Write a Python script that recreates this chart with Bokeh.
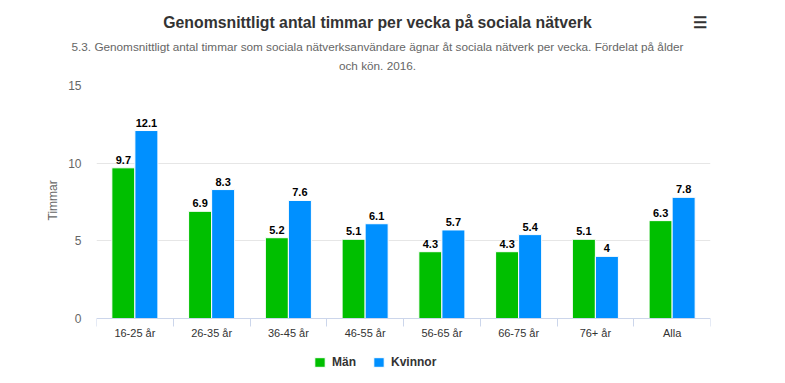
from bokeh.plotting import figure
from bokeh.models import (ColumnDataSource, Range1d, FixedTicker, LinearAxis,
                          Legend, LegendItem, Title)
from bokeh.transform import dodge
from bokeh.core.properties import value
from bokeh.embed import file_html
from bokeh.resources import INLINE

# ---- data ----
categories = ["16-25 år", "26-35 år", "36-45 år", "46-55 år", "56-65 år", "66-75 år", "76+ år", "Alla"]
man = [9.7, 6.9, 5.2, 5.1, 4.3, 4.3, 5.1, 6.3]
kvinnor = [12.1, 8.3, 7.6, 6.1, 5.7, 5.4, 4.0, 7.8]
series_names = ["Män", "Kvinnor"]
y_ticks = [0, 5, 10, 15]
y_label = "Timmar"

title_text = "Genomsnittligt antal timmar per vecka på sociala nätverk"
subtitle_1 = ("5.3. Genomsnittligt antal timmar som sociala nätverksanvändare ägnar åt "
              "sociala nätverk per vecka. Fördelat på ålder")
subtitle_2 = "och kön. 2016."
menu_icon = "☰"

FONT = "Liberation Sans"
GREEN = "#00bf00"
BLUE = "#0090ff"
AXIS_COLOR = "#ccd6eb"

# layout (page pixels)
FRAME_TOP, ZERO_Y, FRAME_BOTTOM = 85, 318, 372
PX_PER_UNIT = (ZERO_Y - FRAME_TOP) / 15.0
Y_START = -(FRAME_BOTTOM - ZERO_Y) / PX_PER_UNIT   # room below the axis for the legend

# header texts are placed on an extra horizontal range in page pixels
HEADER_RANGE = (96, 710)
TITLE_X = 377
MENU_X = 699

n = len(categories)
centers = [i + 0.5 for i in range(n)]          # category slot centres
boundaries = [float(i) for i in range(n + 1)]  # category slot edges

src = ColumnDataSource(dict(
    xc=centers,
    man=man,
    kvinnor=kvinnor,
    man_lbl=[f"{v:g}" for v in man],
    kv_lbl=[f"{v:g}" for v in kvinnor],
))

p = figure(x_range=Range1d(0, n), y_range=Range1d(Y_START, 15),
           width=785, height=383, output_backend="svg", toolbar_location=None,
           title=None,
           min_border_left=96, min_border_right=75, min_border_top=FRAME_TOP,
           min_border_bottom=383 - FRAME_BOTTOM)
p.outline_line_color = None
p.background_fill_color = "white"
p.extra_x_ranges = {"px": Range1d(*HEADER_RANGE)}

r1 = p.vbar(x=dodge("xc", -0.15), top="man", bottom=0, width=0.3,
            source=src, fill_color=GREEN, line_color="white", line_width=1)
r2 = p.vbar(x=dodge("xc", 0.15), top="kvinnor", bottom=0, width=0.3,
            source=src, fill_color=BLUE, line_color="white", line_width=1)

for xoff, ycol, col in [(-0.15, "man", "man_lbl"), (0.15, "kvinnor", "kv_lbl")]:
    p.text(x=dodge("xc", xoff), y=ycol, text=col, source=src,
           text_align="center", text_baseline="bottom", y_offset=-4,
           text_font=value(FONT), text_font_size="11px", text_font_style="bold",
           text_color="#000000")

# grid
p.xgrid.visible = False
p.ygrid.ticker = FixedTicker(ticks=[t for t in y_ticks if t > 0])
p.ygrid.grid_line_color = "#e6e6e6"

# y axis
p.yaxis.ticker = FixedTicker(ticks=y_ticks)
p.yaxis.axis_line_color = None
p.yaxis.major_tick_line_color = None
p.yaxis.minor_tick_line_color = None
p.yaxis.major_tick_out = 0
p.yaxis.major_tick_in = 0
p.yaxis.major_label_text_font = FONT
p.yaxis.major_label_text_font_size = "12px"
p.yaxis.major_label_text_color = "#666666"
p.yaxis.major_label_standoff = 15

# y axis title, placed along the left side (offset from the frame bottom)
p.add_layout(Title(text=y_label, align="left", offset=152, standoff=12,
                   text_font=FONT, text_font_size="12px", text_font_style="normal",
                   text_color="#666666"), "left")

# x axis drawn at y = 0: labels at slot centres, tick marks (minor) at slot edges
p.xaxis.fixed_location = 0
p.xaxis.ticker = FixedTicker(ticks=centers, minor_ticks=boundaries)
p.xaxis.major_label_overrides = {c: cat for c, cat in zip(centers, categories)}
p.xaxis.axis_line_color = AXIS_COLOR
p.xaxis.major_tick_line_color = None
p.xaxis.major_tick_out = 0
p.xaxis.major_tick_in = 0
p.xaxis.minor_tick_line_color = AXIS_COLOR
p.xaxis.minor_tick_out = 8
p.xaxis.minor_tick_in = 0
p.xaxis.major_label_text_font = FONT
p.xaxis.major_label_text_font_size = "11px"
p.xaxis.major_label_text_color = "#333333"
p.xaxis.major_label_standoff = 0


def header_axis(labels, size, style, color, standoff):
    ax = LinearAxis(x_range_name="px", ticker=FixedTicker(ticks=list(labels.keys())),
                    major_label_overrides=labels,
                    axis_line_color=None, major_tick_line_color=None,
                    minor_tick_line_color=None, major_tick_out=0, major_tick_in=0,
                    minor_tick_out=0, minor_tick_in=0,
                    major_label_standoff=standoff, major_label_text_font=FONT,
                    major_label_text_font_size=size, major_label_text_font_style=style,
                    major_label_text_color=color)
    p.add_layout(ax, "above")


# header rows, first added is nearest the plot
header_axis({TITLE_X: subtitle_2}, "11.75px", "normal", "#666666", 14)
header_axis({TITLE_X: subtitle_1}, "11.75px", "normal", "#666666", 3)
header_axis({TITLE_X: title_text, MENU_X: menu_icon}, "15.8px", "bold", "#333333", 6)

# legend inside the (extended) frame, below the x axis
legend = Legend(items=[LegendItem(label=series_names[0], renderers=[r1]),
                       LegendItem(label=series_names[1], renderers=[r2])],
                orientation="horizontal", location=(217, 3),
                label_text_font=FONT, label_text_font_style="bold",
                label_text_font_size="12px", label_text_color="#333333",
                glyph_width=13, glyph_height=12, label_height=12, label_standoff=6,
                spacing=16, padding=0, margin=0, border_line_color=None,
                background_fill_alpha=0)
p.add_layout(legend, "center")

open("out.html", "w").write(file_html(p, INLINE))
